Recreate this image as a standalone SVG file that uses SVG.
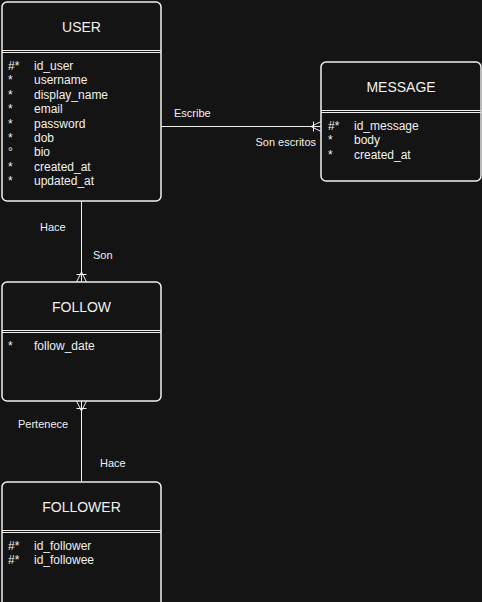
<svg xmlns="http://www.w3.org/2000/svg" width="482" height="602" viewBox="0 0 482 602">
<style>
.box{fill:#141414;stroke:#f0f0f0;stroke-width:1.5}
.div{stroke:#f0f0f0;stroke-width:1;fill:none}
.title{font-family:"Liberation Sans",Arial,sans-serif;font-size:14px;fill:#f0f0f0;text-anchor:middle}
.attr{font-family:"Liberation Sans",Arial,sans-serif;font-size:12px;fill:#f0f0f0}
.lbl{font-family:"Liberation Sans",Arial,sans-serif;font-size:11px;fill:#f0f0f0}
.ln{stroke:#f0f0f0;stroke-width:1;fill:none}
</style>
<rect width="482" height="602" fill="#141414"/>
<g id="connectors">
  <g id="user-message">
    <path class="ln" d="M161,126.5 H321"/>
    <path class="ln" d="M313.5,121.5 V131.5 M311,126.5 L321,121.5 M311,126.5 L321,131.5"/>
    <text class="lbl" x="174" y="117">Escribe</text>
    <text class="lbl" x="316" y="146" text-anchor="end">Son escritos</text>
  </g>
  <g id="user-follow">
    <path class="ln" d="M81.5,201 V282"/>
    <path class="ln" d="M76.5,274.5 H86.5 M81.5,272 L76.5,282 M81.5,272 L86.5,282"/>
    <text class="lbl" x="40" y="231">Hace</text>
    <text class="lbl" x="93" y="259">Son</text>
  </g>
  <g id="follower-follow">
    <path class="ln" d="M81.5,401 V482"/>
    <path class="ln" d="M76.5,408.5 H86.5 M81.5,411 L76.5,401 M81.5,411 L86.5,401"/>
    <text class="lbl" x="18" y="428">Pertenece</text>
    <text class="lbl" x="100" y="467">Hace</text>
  </g>
</g>
<g id="user">
  <rect class="box" x="2" y="2" width="159" height="199" rx="5"/>
  <path class="div" d="M2,50.5 H161 M2,52.5 H161"/>
  <text class="title" x="81.5" y="32">USER</text>
  <g class="attr">
    <text x="8" y="70">#*</text><text x="34" y="70">id_user</text>
    <text x="8" y="84">*</text><text x="34" y="84">username</text>
    <text x="8" y="99">*</text><text x="34" y="99">display_name</text>
    <text x="8" y="113">*</text><text x="34" y="113">email</text>
    <text x="8" y="128">*</text><text x="34" y="128">password</text>
    <text x="8" y="142">*</text><text x="34" y="142">dob</text>
    <text x="8" y="156">°</text><text x="34" y="156">bio</text>
    <text x="8" y="171">*</text><text x="34" y="171">created_at</text>
    <text x="8" y="185">*</text><text x="34" y="185">updated_at</text>
  </g>
</g>
<g id="message">
  <rect class="box" x="321" y="62" width="160" height="119" rx="5"/>
  <path class="div" d="M321,110.5 H481 M321,112.5 H481"/>
  <text class="title" x="401" y="92">MESSAGE</text>
  <g class="attr">
    <text x="328" y="130">#*</text><text x="354" y="130">id_message</text>
    <text x="328" y="144">*</text><text x="354" y="144">body</text>
    <text x="328" y="159">*</text><text x="354" y="159">created_at</text>
  </g>
</g>
<g id="follow">
  <rect class="box" x="2" y="282" width="159" height="119" rx="5"/>
  <path class="div" d="M2,330.5 H161 M2,332.5 H161"/>
  <text class="title" x="81.5" y="312">FOLLOW</text>
  <g class="attr">
    <text x="8" y="350">*</text><text x="34" y="350">follow_date</text>
  </g>
</g>
<g id="follower">
  <rect class="box" x="2" y="482" width="159" height="125" rx="5"/>
  <path class="div" d="M2,530.5 H161 M2,532.5 H161"/>
  <text class="title" x="81.5" y="512">FOLLOWER</text>
  <g class="attr">
    <text x="8" y="550">#*</text><text x="34" y="550">id_follower</text>
    <text x="8" y="564">#*</text><text x="34" y="564">id_followee</text>
  </g>
</g>
</svg>
